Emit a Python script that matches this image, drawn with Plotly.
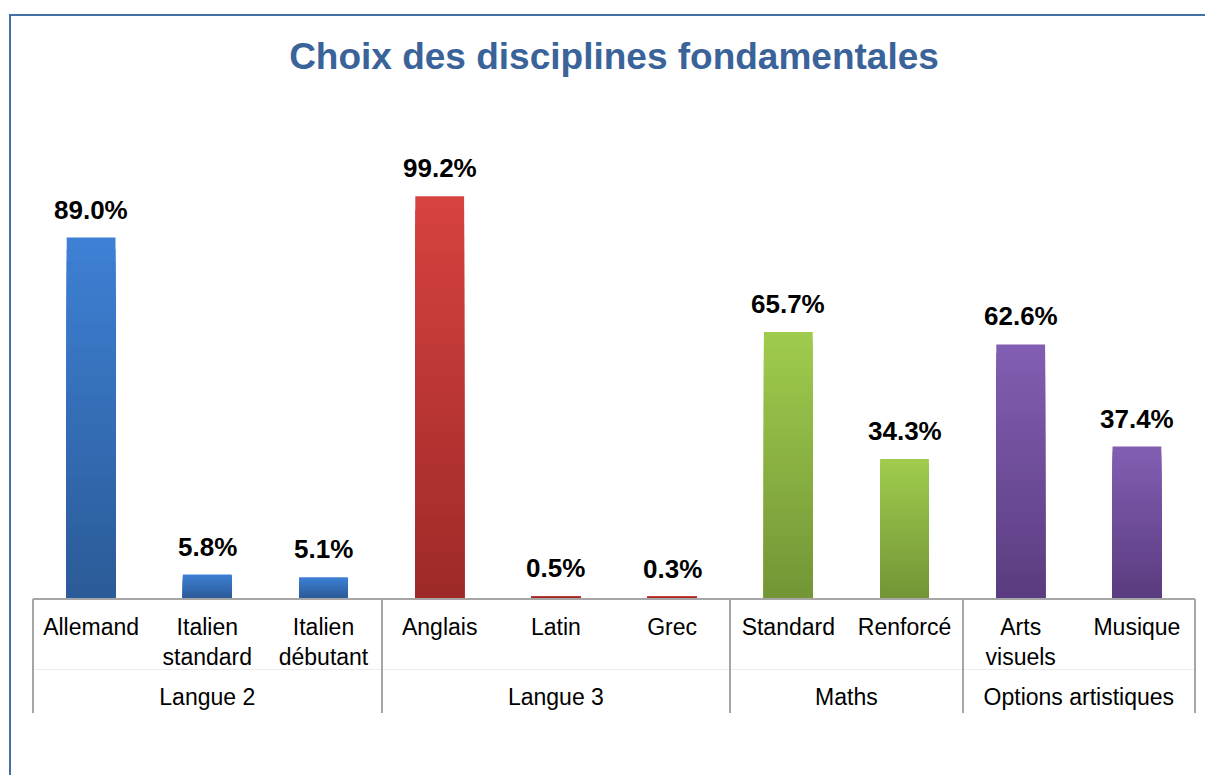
import plotly.graph_objects as go

# ---- data ----
groups = ["Langue 2", "Langue 2", "Langue 2", "Langue 3", "Langue 3", "Langue 3",
          "Maths", "Maths", "Options artistiques", "Options artistiques"]
categories = ["Allemand", "Italien<br>standard", "Italien<br>débutant", "Anglais", "Latin", "Grec",
              "Standard", "Renforcé", "Arts<br>visuels", "Musique"]
values = [89.0, 5.8, 5.1, 99.2, 0.5, 0.3, 65.7, 34.3, 62.6, 37.4]
title_text = "Choix des disciplines fondamentales"

# colour per group: (top, bottom) of gradient
group_colors = {
    "Langue 2": ("#3E80D4", "#2B5B98"),
    "Langue 3": ("#D6423F", "#9E2A28"),
    "Maths": ("#9FCB4D", "#739636"),
    "Options artistiques": ("#825EB2", "#5B3C80"),
}

FONT = "Liberation Sans, Arial, sans-serif"
W, H = 1205, 775
L, R, T, B = 33, 10, 193, 35
AXIS_PX = 598          # pixel row of the category axis line
GROUP_PX = 669         # pixel row of the faint line above group labels
plot_w = W - L - R
paper_h = H - T - B
paper_bottom = H - B


def frac_y(px):
    return (paper_bottom - px) / paper_h


def hex2rgb(h):
    h = h.lstrip("#")
    return tuple(int(h[i:i + 2], 16) for i in (0, 2, 4))


def mix(c1, c2, t):
    a, b = hex2rgb(c1), hex2rgb(c2)
    return "rgb(%d,%d,%d)" % tuple(round(a[i] + (b[i] - a[i]) * t) for i in range(3))


n = len(categories)
fig = go.Figure()
N = 30
for k in range(N):
    frac = 1 - k / N
    t = k / (N - 1)
    cols = [mix(group_colors[g][0], group_colors[g][1], t) for g in groups]
    fig.add_trace(go.Bar(
        x=categories,
        y=[v * frac for v in values],
        width=0.42,
        marker=dict(color=cols, line=dict(width=0)),
        hoverinfo="skip" if k > 0 else None,
        showlegend=False,
    ))

# value labels
for c, v in zip(categories, values):
    fig.add_annotation(x=c, y=v, xref="x", yref="y", text=f"<b>{v:.1f}%</b>",
                       showarrow=False, yanchor="bottom", yshift=11,
                       font=dict(family=FONT, size=26, color="black"))

# group boundaries and centres (from the groups list)
bounds = [-0.5]
centers, names = [], []
start = 0
for i in range(1, n + 1):
    if i == n or groups[i] != groups[i - 1]:
        bounds.append(i - 0.5)
        centers.append((start + i - 1) / 2)
        names.append(groups[start])
        start = i

# invisible carriers so the group-label axis and the divider axis get drawn
fig.add_trace(go.Scatter(x=centers, y=[0] * len(centers), xaxis="x2", yaxis="y",
                         mode="markers", marker=dict(opacity=0), hoverinfo="skip", showlegend=False))
fig.add_trace(go.Scatter(x=bounds, y=[0] * len(bounds), xaxis="x3", yaxis="y",
                         mode="markers", marker=dict(opacity=0), hoverinfo="skip", showlegend=False))

# outer border of the chart (runs off the right and bottom edges)
fig.add_shape(type="rect", xref="paper", yref="paper",
              x0=(10 - L) / plot_w, x1=(W + 20 - L) / plot_w,
              y0=frac_y(800), y1=frac_y(15),
              line=dict(color="#4470A8", width=2), fillcolor="rgba(0,0,0,0)", layer="below")

fig.update_layout(
    width=W, height=H,
    margin=dict(l=L, r=R, t=T, b=B),
    barmode="overlay",
    paper_bgcolor="white", plot_bgcolor="white",
    title=dict(text=title_text, x=0.5, xref="paper", xanchor="center",
               y=1 - 56 / H, yref="container", yanchor="middle",
               font=dict(family=FONT, size=37, color="#3A6399", weight="bold")),
    font=dict(family=FONT, size=23, color="black"),
    xaxis=dict(
        type="category", anchor="y",
        showline=True, linecolor="#A6A6A6", linewidth=1.5,
        ticks="", showgrid=False, ticklabelstandoff=8,
        tickfont=dict(family=FONT, size=23, color="black"),
    ),
    xaxis2=dict(
        overlaying="x", anchor="free", position=frac_y(GROUP_PX),
        range=[-0.5, n - 0.5], tickmode="array", tickvals=centers, ticktext=names,
        showline=True, linecolor="#ECECEC", linewidth=1,
        ticks="", showgrid=False, zeroline=False, ticklabelstandoff=7,
        tickfont=dict(family=FONT, size=23, color="black"),
    ),
    xaxis3=dict(
        overlaying="x", anchor="y",
        range=[-0.5, n - 0.5], tickmode="array", tickvals=bounds,
        showline=False, showticklabels=False,
        ticks="outside", ticklen=114, tickwidth=1.5, tickcolor="#A6A6A6",
        showgrid=False, zeroline=False,
    ),
    yaxis=dict(range=[0, 100], domain=[frac_y(AXIS_PX), 1], visible=False,
               showgrid=False, zeroline=False),
)

fig.write_html("out.html", config={"displayModeBar": False},
               post_script="document.body.style.margin='0';")
